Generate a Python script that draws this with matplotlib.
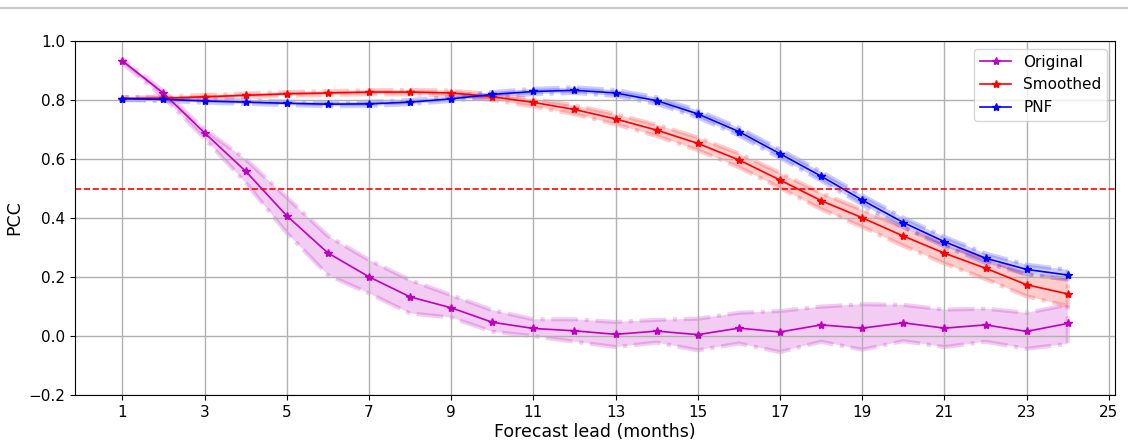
import numpy as np
import matplotlib
matplotlib.use("Agg")
import matplotlib.pyplot as plt
from matplotlib.lines import Line2D

leads = list(range(1, 25))

# Original PCC and spread
orig = [0.933, 0.823, 0.689, 0.559, 0.408, 0.282, 0.201, 0.133, 0.096, 0.047, 0.026, 0.018,
        0.006, 0.017, 0.005, 0.027, 0.014, 0.038, 0.027, 0.045, 0.027, 0.038, 0.016, 0.043]
orig_lo = [0.925, 0.81, 0.67, 0.52, 0.35, 0.207, 0.145, 0.077, 0.063, 0.015, 0.0, -0.019,
           -0.037, -0.022, -0.048, -0.025, -0.054, -0.019, -0.046, -0.017, -0.037, -0.019, -0.043, -0.026]
orig_hi = [0.94, 0.83, 0.70, 0.60, 0.47, 0.34, 0.258, 0.19, 0.139, 0.088, 0.057, 0.057,
           0.048, 0.055, 0.059, 0.079, 0.085, 0.10, 0.108, 0.106, 0.09, 0.093, 0.079, 0.106]

# Smoothed
smooth = [0.805, 0.806, 0.811, 0.816, 0.821, 0.824, 0.827, 0.827, 0.824, 0.811, 0.792, 0.768,
          0.736, 0.698, 0.653, 0.597, 0.529, 0.459, 0.401, 0.339, 0.281, 0.230, 0.174, 0.143]
smooth_lo = [0.800, 0.801, 0.805, 0.810, 0.815, 0.817, 0.820, 0.819, 0.815, 0.800, 0.778, 0.752,
             0.718, 0.678, 0.630, 0.572, 0.502, 0.430, 0.370, 0.306, 0.246, 0.193, 0.135, 0.102]
smooth_hi = [0.810, 0.812, 0.817, 0.822, 0.827, 0.830, 0.833, 0.834, 0.832, 0.820, 0.803, 0.782,
             0.752, 0.716, 0.673, 0.619, 0.553, 0.485, 0.428, 0.368, 0.311, 0.262, 0.208, 0.195]

# PNF
pnf = [0.805, 0.802, 0.797, 0.793, 0.789, 0.786, 0.787, 0.793, 0.804, 0.819, 0.829, 0.833,
       0.824, 0.798, 0.753, 0.693, 0.618, 0.542, 0.461, 0.385, 0.320, 0.264, 0.226, 0.207]
pnf_lo = [0.800, 0.797, 0.791, 0.787, 0.783, 0.779, 0.780, 0.786, 0.797, 0.811, 0.820, 0.824,
          0.814, 0.787, 0.741, 0.680, 0.604, 0.527, 0.446, 0.369, 0.304, 0.248, 0.210, 0.191]
pnf_hi = [0.810, 0.807, 0.803, 0.799, 0.795, 0.792, 0.794, 0.800, 0.811, 0.827, 0.838, 0.843,
          0.834, 0.809, 0.765, 0.706, 0.632, 0.557, 0.477, 0.401, 0.336, 0.280, 0.242, 0.225]

fig = plt.figure(figsize=(11.28, 4.41), dpi=100)
ax = fig.add_axes([0.0665, 0.104, 0.922, 0.803])

series = [
    (orig, orig_lo, orig_hi, 'm', 'Original'),
    (smooth, smooth_lo, smooth_hi, 'r', 'Smoothed'),
    (pnf, pnf_lo, pnf_hi, 'b', 'PNF'),
]
for vals, lo, hi, c, name in series:
    ax.plot(leads, vals, color=c, marker='*', markersize=6, linewidth=1.2, label=name)
    ax.fill_between(leads, lo, hi, color=c, alpha=0.2, linestyle='-.', linewidth=3)

ax.axhline(0.5, color='r', linestyle='--', linewidth=1.2)

ax.set_ylim(-0.2, 1.0)
ax.set_xticks(range(1, 26, 2))
ax.tick_params(labelsize=11)
ax.grid(True, color='#b0b0b0', linewidth=1)
ax.set_xlabel('Forecast lead (months)', fontsize=12.5, labelpad=2)
ax.set_ylabel('PCC', fontsize=12.5)
ax.legend(loc='upper right', fontsize=11)

# thin rule along the top edge
fig.add_artist(Line2D([0, 1], [1 - 8 / 441, 1 - 8 / 441], color='#c8c8c8', linewidth=1.5))

fig.savefig('out.png', dpi=100)
